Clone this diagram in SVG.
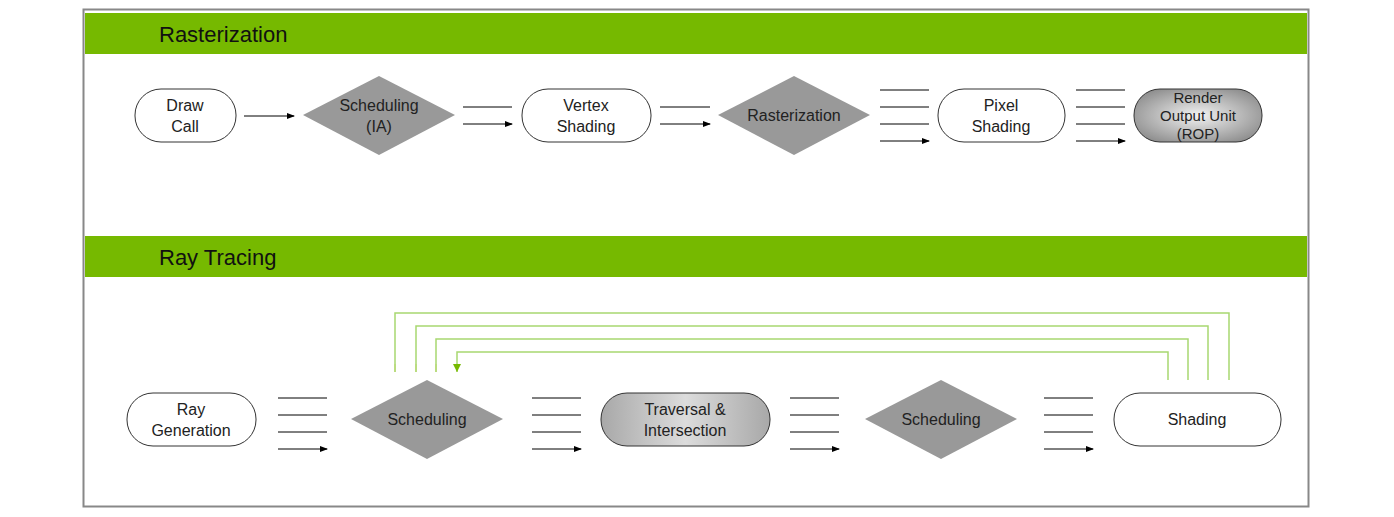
<svg xmlns="http://www.w3.org/2000/svg" width="1394" height="517" viewBox="0 0 1394 517">
<defs>
<marker id="ah" markerWidth="8" markerHeight="8" refX="7" refY="4" orient="auto" markerUnits="userSpaceOnUse"><path d="M0,1 L8,4 L0,7 z" fill="#000"/></marker>
<marker id="gh" markerWidth="8" markerHeight="8" refX="4" refY="7" orient="auto" markerUnits="userSpaceOnUse"><path d="M0,0 L8,0 L4,8 z" fill="#76b900" transform="rotate(-90 4 4)"/></marker>
<radialGradient id="rg" cx="0.5" cy="0.5" r="0.6"><stop offset="0" stop-color="#f2f2f2"/><stop offset="1" stop-color="#8c8c8c"/></radialGradient>
<linearGradient id="lg" x1="0" y1="0" x2="1" y2="0"><stop offset="0" stop-color="#a8a8a8"/><stop offset="0.5" stop-color="#dcdcdc"/><stop offset="1" stop-color="#a8a8a8"/></linearGradient>
</defs>
<style>
text{font-family:"Liberation Sans",Arial,sans-serif;fill:#222;font-size:16px;text-anchor:middle}
.t{font-size:22px;text-anchor:start;fill:#111}
.p{fill:#fff;stroke:#333;stroke-width:1}
.d{fill:#999}
.a{stroke:#000;stroke-width:1;fill:none;marker-end:url(#ah)}
.g{stroke:#a8d870;stroke-width:1.5;fill:none}
.gv{stroke:#76b900;stroke-width:1;fill:none;marker-end:url(#gd)}
</style>
<defs><marker id="gd" markerWidth="8" markerHeight="8" refX="4" refY="8" orient="0" markerUnits="userSpaceOnUse"><path d="M0,0 L8,0 L4,8 z" fill="#76b900"/></marker></defs>
<rect x="0" y="0" width="1394" height="517" fill="#fff"/>
<rect x="83.5" y="9.5" width="1225" height="497" fill="#fff" stroke="#888" stroke-width="2"/>
<rect x="85" y="13" width="1222" height="41" fill="#76b900"/>
<rect x="85" y="236" width="1222" height="41" fill="#76b900"/>
<text class="t" x="159" y="42">Rasterization</text>
<text class="t" x="159" y="265">Ray Tracing</text>
<g id="drawcall"><rect class="p" x="135" y="89" width="101" height="53" rx="26"/><text x="185" y="111">Draw</text><text x="185" y="132">Call</text></g>
<g id="sched-ia"><polygon class="d" points="379,76 455,115 379,155 303,115"/><text x="379" y="111">Scheduling</text><text x="379" y="132">(IA)</text></g>
<g id="vertex"><rect class="p" x="522" y="89" width="129" height="53" rx="26"/><text x="586" y="111">Vertex</text><text x="586" y="132">Shading</text></g>
<g id="raster"><polygon class="d" points="794,76 870,115 794,155 718,115"/><text x="794" y="121">Rasterization</text></g>
<g id="pixel"><rect class="p" x="938" y="89" width="127" height="53" rx="26"/><text x="1001" y="111">Pixel</text><text x="1001" y="132">Shading</text></g>
<g id="rop"><rect x="1134" y="89" width="128" height="53" rx="26" fill="url(#rg)" stroke="#333"/><text x="1198" y="103" style="font-size:15px">Render</text><text x="1198" y="121" style="font-size:15px">Output Unit</text><text x="1198" y="139" style="font-size:15px">(ROP)</text></g>
<g id="raygen"><rect class="p" x="127" y="393" width="129" height="53" rx="26"/><text x="191" y="415">Ray</text><text x="191" y="436">Generation</text></g>
<g id="sched1"><polygon class="d" points="427,380 503,419 427,459 351,419"/><text x="427" y="425">Scheduling</text></g>
<g id="traversal"><rect x="601" y="393" width="169" height="53" rx="26" fill="url(#lg)" stroke="#333"/><text x="685" y="415">Traversal &amp;</text><text x="685" y="436">Intersection</text></g>
<g id="sched2"><polygon class="d" points="941,380 1017,419 941,459 865,419"/><text x="941" y="425">Scheduling</text></g>
<g id="shading"><rect class="p" x="1114" y="393" width="167" height="53" rx="26"/><text x="1197" y="425">Shading</text></g>
<g id="connectors">
<path class="a" d="M244,116H294"/>
<path class="a" d="M463,107H512M463,124H512"/>
<path class="a" d="M660,107H710M660,124H710"/>
<path class="a" d="M880,90H929M880,107H929M880,124H929M880,141H929"/>
<path class="a" d="M1076,90H1125M1076,107H1125M1076,124H1125M1076,141H1125"/>
<path class="a" d="M278,398H327M278,415H327M278,432H327M278,449H327"/>
<path class="a" d="M532,398H581M532,415H581M532,432H581M532,449H581"/>
<path class="a" d="M790,398H839M790,415H839M790,432H839M790,449H839"/>
<path class="a" d="M1044,398H1093M1044,415H1093M1044,432H1093M1044,449H1093"/>
<path class="g" d="M1229,380V313H395V364M1208,380V326H416V364M1188,380V339H436V364M1168,380V352H457V364"/>
<path class="gv" d="M395,364V372M416,364V372M436,364V372M457,364V372"/>
</g>
</svg>
